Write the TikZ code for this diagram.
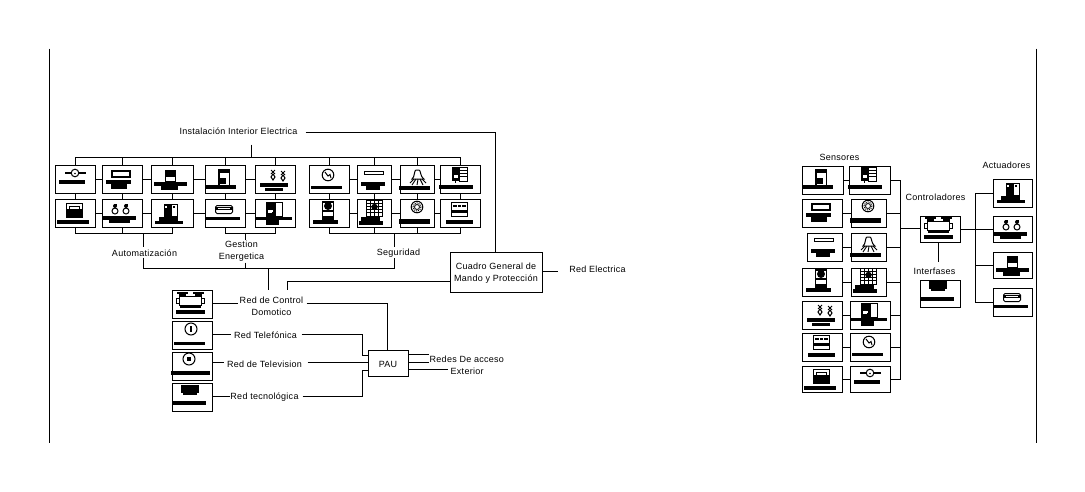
\documentclass[tikz,border=0pt]{standalone}
\usepackage{fontspec}
\setmainfont{Liberation Sans}[LetterSpace=3]
\tikzset{
  ibox/.style={draw,line width=1pt,fill=white,rectangle,inner sep=0pt,anchor=north west},
  lbl/.style={inner sep=0pt,yshift=-1pt,font=\fontsize{9}{12}\selectfont,align=center},
  conn/.style={line width=1pt}
}
\newcommand\bk[4]{\fill (#1,#2) rectangle (#3,#4);}
\newcommand\wh[4]{\draw[line width=1pt,fill=white] (#1,#2) rectangle (#3,#4);}
\newcommand\icona{\bk{11}{7}{32}{9}\draw[line width=1pt,fill=white](21,8) circle (3.8);\fill (21,8.5) circle(.8);\bk{5}{15}{31}{19}}
\newcommand\iconb{\draw[line width=2pt,fill=white](11,6) rectangle (29,12);\bk{5}{15}{30}{19}\bk{10}{19}{26}{24}}
\newcommand\iconc{\bk{15}{5}{26}{11}\wh{15.5}{11}{25.5}{16}\bk{4}{17}{37}{21}\bk{11}{21}{28}{25}}
\newcommand\icond{\wh{14.5}{4.5}{25.5}{21.5}\bk{14}{4}{26}{8}\bk{16}{13}{22}{19}\bk{14}{8}{16}{20}\bk{2}{20}{32}{24}}
\newcommand\glyph[2]{\draw[line width=1pt] (#1-2,#2) -- (#1+2,#2+4) (#1+2,#2) -- (#1-2,#2+4);\draw[line width=1pt] (#1,#2+4) -- (#1+2,#2+7) -- (#1,#2+10) -- (#1-2,#2+7) -- cycle;}
\newcommand\icone{\glyph{19}{5}\glyph{29}{6}\bk{6}{18}{34}{22}\bk{11}{23}{29}{26}}
\newcommand\iconf{\wh{12.5}{4.5}{28.5}{18}\bk{12}{10}{29}{18}\draw[line width=1pt](15.5,10) -- (15.5,7.5) -- (25.5,7.5) -- (25.5,10);\bk{3}{21}{35}{25}}
\newcommand\lampx[2]{\fill (#1,#2+2) circle (2);\draw[line width=1pt] (#1,#2+7) circle (3);\fill (#1-1.5,#2) rectangle (#1+1.5,#2+2);}
\newcommand\icong{\lampx{14}{5}\lampx{25}{5}\bk{2}{17}{35}{21}\bk{8}{21}{29}{24}}
\newcommand\iconh{\bk{14}{5}{22}{18}\wh{21.5}{5.5}{27.5}{17.5}\bk{23}{7}{25}{9}\bk{9}{18}{28}{22}\bk{5}{22}{33}{25}\fill[white] (15,7) rectangle (17,9);}
\newcommand\iconi{\draw[line width=1pt,fill=white,rounded corners=1.5pt](11.5,6.5) rectangle (28.5,14.5);\bk{12}{8}{28}{11}\fill[white](14,9) rectangle (26,10);\bk{1}{18}{36}{21}}
\newcommand\iconj{\bk{12}{3}{21}{26}\wh{21.5}{3.5}{28.5}{17.5}\bk{1}{18}{38}{21}\bk{12}{21}{25}{26}\fill[white](14,11) rectangle (19,14);\bk{18}{13}{21}{17}}
\newcommand\iconk{\draw[line width=1pt](20,10) circle (5.8);\draw[line width=1pt] (17,7) -- (20,11) -- (22,9.5) -- (23,13);\bk{3}{21}{34}{24}}
\newcommand\iconl{\wh{8.5}{6.5}{27.5}{9.5}\bk{5}{17}{29}{21}\bk{10}{21}{24}{25}}
\newcommand\iconm{\draw[line width=1pt,fill=white] (13,14) .. controls (16,12) and (15,5) .. (17,5) -- (20,5) .. controls (22,5) and (21,12) .. (25,14) -- cycle;\draw[line width=.9pt](17,14) -- (13,20) (19,14) -- (18,20) (21,14) -- (24,20) (15,14) -- (11,18) (23,14) -- (27,18);\bk{0}{21}{31}{25}}
\newcommand\iconn{\bk{13}{2}{20}{16}\wh{20.5}{2.5}{28.5}{16.5}\draw[line width=1pt](20.5,5.5) -- (28.5,5.5) (20.5,8.5) -- (28.5,8.5) (20.5,11.5) -- (28.5,11.5);\fill[white](15,10) rectangle (19,13);\draw[line width=1pt](16.5,16) -- (16.5,18);\bk{0}{20}{34}{24}}
\newcommand\icono{\wh{14.5}{2.5}{25.5}{20}\fill (20,7) circle (4);\bk{14}{2}{26}{4}\bk{14}{11}{26}{13}\bk{14}{17}{26}{20}\bk{5}{21}{30}{25}}
\newcommand\iconp{\wh{10.5}{1.5}{26.5}{17.5}\draw[line width=1pt](10.5,4.5)--(26.5,4.5) (10.5,7.5)--(26.5,7.5) (10.5,10.5)--(26.5,10.5) (10.5,13.5)--(26.5,13.5) (14.5,1.5)--(14.5,17.5) (18.5,1.5)--(18.5,17.5) (22.5,1.5)--(22.5,17.5);\fill (18.5,8) circle(3.2);\bk{5}{18}{24}{22}\bk{3}{22}{27}{26}}
\newcommand\iconq{\draw[line width=1pt](18,8) circle (5.8);\draw[line width=1pt,densely dotted](18,8) circle (4);\draw[line width=.8pt](18,8) circle (2.5);\bk{0}{20}{31}{25}}
\newcommand\iconr{\wh{12.5}{3.5}{28.5}{17.5}\bk{14}{6}{18}{8}\bk{19}{6}{22}{8}\bk{23}{6}{27}{8}\bk{13}{11}{28}{14}\bk{7}{21}{34}{25}}
\newcommand\iconctrl{\bk{6}{2}{17}{4}\bk{22}{2}{33}{4}\bk{8}{4}{15}{6}\bk{24}{4}{31}{6}\wh{8.5}{6.5}{30.5}{15.5}\draw[line width=1pt,fill=white](5.5,8.5) rectangle (8.5,13.5) (30.5,8.5) rectangle (33.5,13.5);\bk{9}{16}{30}{18}\bk{5}{20}{34}{24}}
\newcommand\icontel{\draw[line width=1pt](20,8) circle (6);\bk{19}{5}{21}{11}\bk{3}{21}{34}{24}}
\newcommand\icontv{\draw[line width=1pt](18,7) circle (6);\bk{16}{5}{20}{9}\bk{0}{19}{39}{23}}
\newcommand\iconnet{\bk{10}{2}{28}{10}\bk{12}{10}{26}{12}\bk{2}{18}{35}{22}}
\def\idy{1}
% #1 name, #2 x, #3 y, #4 w, #5 h, #6 icon
\newcommand\ib[6]{\node[ibox,minimum width=#4pt,minimum height=#5pt] (#1) at (#2,#3) {};\begin{scope}[shift={({#2-.5},{#3+\idy-.5})}]#6\end{scope}}
\begin{document}
\begin{tikzpicture}[x=1pt,y=-1pt]
\useasboundingbox (-.5,.5) rectangle (1084.5,491.5);
% page rules
\coordinate (pa) at (49,49);\coordinate (pb) at (49,443);
\coordinate (pc) at (1036,49);\coordinate (pd) at (1036,443);
\draw[conn] (pa) -- (pb) (pc) -- (pd);
% upper block
\ib{a1}{54}{165}{40}{28}{\icona}
\ib{a2}{101}{165}{40}{28}{\iconb}
\ib{a3}{150}{165}{42}{28}{\iconc}
\ib{a4}{204}{165}{40}{28}{\icond}
\ib{a5}{254}{165}{40}{28}{\icone}
\ib{a6}{308}{165}{40}{28}{\iconk}
\ib{a7}{356}{165}{34}{28}{\iconl}
\ib{a8}{399}{165}{34}{28}{\iconm}
\ib{a9}{439}{165}{40}{28}{\iconn}
\ib{b1}{54}{199}{40}{28}{\iconf}
\ib{b2}{101}{199}{40}{28}{\icong}
\ib{b3}{150}{199}{42}{28}{\iconh}
\ib{b4}{204}{199}{40}{28}{\iconi}
\ib{b5}{254}{199}{40}{28}{\iconj}
\ib{b6}{308}{199}{40}{28}{\icono}
\ib{b7}{356}{199}{34}{28}{\iconp}
\ib{b8}{399}{199}{34}{28}{\iconq}
\ib{b9}{439}{199}{40}{28}{\iconr}
\foreach \p/\q in {a1/a2,a2/a3,a3/a4,a4/a5,a6/a7,a7/a8,a8/a9,b1/b2,b2/b3,b3/b4,b4/b5,b6/b7,b7/b8,b8/b9}{\draw[conn] (\p.east) -- (\q.west);}
\foreach \i in {1,...,9}{\draw[conn] (a\i.south) -- (b\i.north);}
\node[lbl] (tint) at (238,131) {Instalación Interior Electrica};
\coordinate (topbus) at (251,158);
\coordinate (topl) at (251,145);
\draw[conn] (topl) -- (topbus);
\draw[conn] (a1.north) |- (topbus) -| (a9.north);
\foreach \i in {2,...,8}{\draw[conn] (a\i.north) -- (a\i.north |- topbus);}
% bottom buses
\coordinate (bus1) at (143,234);\coordinate (bus2) at (245,234);\coordinate (bus3) at (394,234);
\coordinate (main) at (268,269);
\draw[conn] (b1.south) |- (bus1) -| (b3.south);
\draw[conn] (b2.south) -- (b2.south |- bus1);
\draw[conn] (b4.south) |- (bus2) -| (b5.south);
\draw[conn] (b6.south) |- (bus3) -| (b9.south);
\draw[conn] (b7.south) -- (b7.south |- bus3);
\draw[conn] (b8.south) -- (b8.south |- bus3);
\node[lbl] (tauto) at (144,253) {Automatización};
\node[lbl] (tgest) at (241,251) {Gestion\\Energetica};
\node[lbl] (tseg) at (398,253) {Seguridad};
\coordinate (g1) at (245,240);\coordinate (g2) at (245,263);
\coordinate (m1) at (143,247);\coordinate (m2) at (143,258);
\coordinate (s1) at (394,247);\coordinate (s2) at (394,258);
\draw[conn] (bus1) -- (m1) (bus2) -- (g1) (bus3) -- (s1);
\draw[conn] (m2) |- (main) -| (s2);
\draw[conn] (g2) -- (g2 |- main);
% cuadro
\node[ibox,minimum width=92pt,minimum height=40pt] (cg) at (449,252) {};
\node[lbl,align=center] at (cg.center) {Cuadro General de\\Mando y Protección};
\coordinate (tintr) at (305,133);
\draw[conn] (tintr) -| (cg.north -| 495,0);
\coordinate (tre) at (557,272);
\node[lbl] (trel) at (597,269) {Red Electrica};
\draw[conn] (cg.east |- tre) -- (tre);
% lower left
\ib{c1}{171}{290}{40}{28}{\iconctrl}
\ib{c2}{171}{321}{40}{28}{\icontel}
\ib{c3}{171}{352}{40}{28}{\icontv}
\ib{c4}{171}{383}{40}{28}{\iconnet}
\node[ibox,minimum width=40pt,minimum height=26pt] (pau) at (367,350) {};
\node[lbl] at (pau.center) {PAU};
\node[lbl] (tc) at (271,306) {Red de Control\\Domotico};
\node[lbl] (tt) at (265,335) {Red Telefónica};
\node[lbl] (ttv) at (264,364) {Red de Television};
\node[lbl] (tn) at (264,397) {Red tecnológica};
\node[lbl,anchor=north west,align=left] (tr) at (429,355) {Redes De acceso\\\hspace*{21pt}Exterior};
\coordinate (dv) at (268,290);\coordinate (cv) at (287,290);\coordinate (cq) at (287,282);
\draw[conn] (main) -- (dv);
\draw[conn] (cv) -- (cq) -- (cq -| cg.west);
\coordinate (c1a) at (237,304);\coordinate (c1b) at (306,304);\coordinate (c1c) at (387,304);
\draw[conn] (c1.east |- c1a) -- (c1a);
\draw[conn] (c1b) -- (c1c) -- (c1c |- pau.north);
\coordinate (c2a) at (230,335);\coordinate (c2b) at (301,335);\coordinate (c2c) at (362,335);\coordinate (c2d) at (362,356);
\draw[conn] (c2.east |- c2a) -- (c2a);
\draw[conn] (c2b) -- (c2c) -- (c2d) -- (c2d -| pau.west);
\coordinate (c3a) at (223,363);\coordinate (c3b) at (307,363);
\draw[conn] (c3.east |- c3a) -- (c3a);
\draw[conn] (c3b) -- (c3b -| pau.west);
\coordinate (c4a) at (229,397);\coordinate (c4b) at (302,397);\coordinate (c4c) at (362,397);\coordinate (c4d) at (362,371);
\draw[conn] (c4.east |- c4a) -- (c4a);
\draw[conn] (c4b) -- (c4c) -- (c4d) -- (c4d -| pau.west);
\coordinate (o1) at (428,355);\coordinate (o2) at (428,363);\coordinate (o3) at (447,370);
\draw[conn] (o1 -| pau.east) -- (o1);
\draw[conn] (o2 -| pau.east) -- (o2);
\draw[conn] (o3 -| pau.east) -- (o3);
% right block
\def\idy{0}
\node[lbl] (ts) at (839,157) {Sensores};
\node[lbl] (tcc) at (935,197) {Controladores};
\node[lbl] (tif) at (934,271) {Interfases};
\node[lbl] (tac) at (1006,165) {Actuadores};
\ib{l1}{801}{166}{41}{28}{\icond}
\ib{r1}{848}{166}{41}{28}{\iconn}
\ib{l2}{801}{199}{40}{28}{\iconb}
\ib{r2}{850}{199}{35}{28}{\iconq}
\ib{l3}{806}{233}{35}{28}{\iconl}
\ib{r3}{850}{233}{35}{28}{\iconm}
\ib{l4}{801}{268}{40}{28}{\icono}
\ib{r4}{850}{268}{35}{28}{\iconp}
\ib{l5}{801}{301}{40}{28}{\icone}
\ib{r5}{849}{301}{40}{28}{\iconj}
\ib{l6}{801}{333}{40}{28}{\iconr}
\ib{r6}{849}{333}{40}{28}{\iconk}
\ib{l7}{801}{366}{40}{26}{\iconf}
\ib{r7}{849}{366}{40}{26}{\icona}
\foreach \i in {1,...,7}{\draw[conn] (l\i.east) -- (r\i.west);}
\coordinate (sbus) at (900,229);
\draw[conn] (r1.east) -| (sbus) |- (r7.east);
\foreach \i in {2,...,6}{\draw[conn] (r\i.east) -- (r\i.east -| sbus);}
\ib{k1}{919}{216}{40}{26}{\iconctrl}
\ib{k2}{919}{280}{40}{27}{\iconnet}
\draw[conn] (sbus) -- (sbus -| k1.west);
\coordinate (iff) at (938,262);
\draw[conn] (k1.south -| iff) -- (iff);
\ib{x1}{992}{179}{39}{28}{\iconh}
\ib{x2}{992}{216}{39}{26}{\icong}
\ib{x3}{992}{252}{39}{26}{\iconc}
\ib{x4}{992}{288}{39}{28}{\iconi}
\coordinate (abus) at (975,229);
\draw[conn] (k1.east) -- (x2.west);
\draw[conn] (x1.west) -| (abus) |- (x4.west);
\draw[conn] (x3.west) -- (x3.west -| abus);
\end{tikzpicture}
\end{document}
